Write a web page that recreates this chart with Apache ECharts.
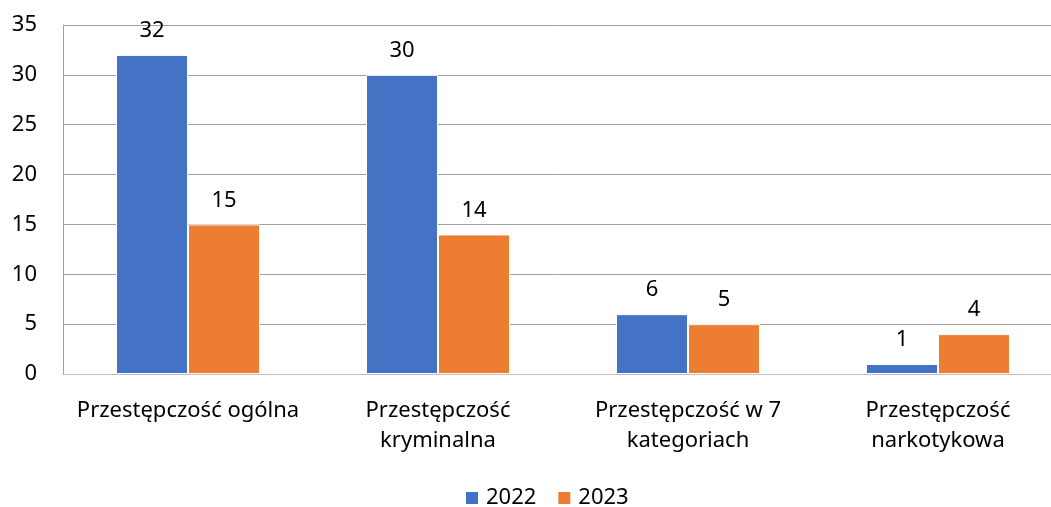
<!DOCTYPE html>
<html>
<head>
<meta charset="utf-8">
<script src="https://cdn.jsdelivr.net/npm/echarts@6/dist/echarts.min.js"></script>
<style>html,body{margin:0;padding:0;background:#fff}#c{width:1051px;height:507px}</style>
</head>
<body>
<div id="c"></div>
<script>
const categories = ['Przestępczość ogólna', 'Przestępczość\nkryminalna', 'Przestępczość w 7\nkategoriach', 'Przestępczość\nnarkotykowa'];
const seriesNames = ['2022', '2023'];
const values2022 = [32, 30, 6, 1];
const values2023 = [15, 14, 5, 4];
const yTicks = { min: 0, max: 35, interval: 5 };

const FONT = 'Noto Sans';
const FS = 22;
const chart = echarts.init(document.getElementById('c'), null, { renderer: 'canvas' });
const labelStyle = { show: true, position: 'top', distance: 13, color: '#000', fontSize: FS, fontFamily: FONT };
chart.setOption({
  animation: false,
  textStyle: { fontFamily: FONT },
  legend: {
    data: seriesNames,
    left: 464, top: 487, padding: 0,
    itemWidth: 14, itemHeight: 14, itemGap: 20,
    icon: 'rect',
    textStyle: { fontSize: FS, color: '#000', fontFamily: FONT, padding: [0, 0, 0, 2] }
  },
  grid: { left: 63, width: 1000, top: 25, height: 349, containLabel: false, outerBoundsMode: 'none' },
  xAxis: {
    type: 'category', data: categories,
    axisLine: { show: true, lineStyle: { color: '#bfbfbf', width: 1 } },
    axisTick: { show: false },
    axisLabel: { color: '#000', fontSize: FS, fontFamily: FONT, lineHeight: 30, margin: 22, interval: 0 }
  },
  yAxis: {
    type: 'value', min: yTicks.min, max: yTicks.max, interval: yTicks.interval,
    axisLine: { show: true, lineStyle: { color: '#a0a0a0', width: 1 } },
    axisTick: { show: false },
    splitLine: { show: true, lineStyle: { color: '#a0a0a0', width: 1 } },
    axisLabel: { color: '#000', fontSize: FS, fontFamily: FONT, margin: 26 }
  },
  series: [
    { name: seriesNames[0], type: 'bar', data: values2022, barWidth: 72, barGap: '0%',
      itemStyle: { color: '#4472C4', borderColor: '#ffffff', borderWidth: 1 }, label: labelStyle },
    { name: seriesNames[1], type: 'bar', data: values2023, barWidth: 72, barGap: '0%',
      itemStyle: { color: '#ED7D31', borderColor: '#ffffff', borderWidth: 1 }, label: labelStyle }
  ]
});
</script>
</body>
</html>
